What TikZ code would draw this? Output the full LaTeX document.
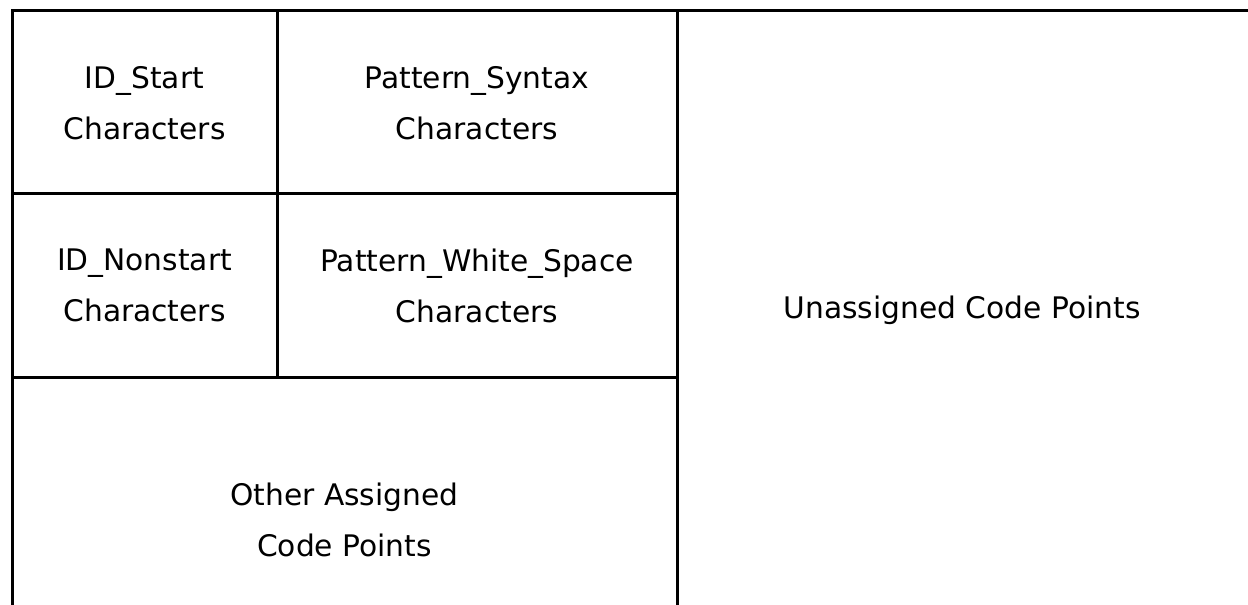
\documentclass[tikz,border=0pt]{standalone}
\usepackage{fontspec}
\setmainfont{DejaVu Sans}
\tikzset{
    celltext/.style={align=center,font=\fontsize{29.7}{51}\selectfont},
    cellline/.style={line width=3pt}
}
\begin{document}
\begin{tikzpicture}[x=1pt,y=-1pt]
        \useasboundingbox (0,0) rectangle (1248,605);
        \node[celltext] (idstart) at (144.5,103) {ID\_Start\\Characters};
        \node[celltext] (patsyntax) at (477,103) {Pattern\_Syntax\\Characters};
        \node[celltext] (idnonstart) at (144.5,285.5) {ID\_Nonstart\\Characters};
        \node[celltext] (patspace) at (477,285.5) {Pattern\_White\_Space\\Characters};
        \node[celltext] (otherassigned) at (344.5,519.5) {Other Assigned\\Code Points};
        \node[celltext] (unassigned) at (962,310) {Unassigned Code Points};
        \draw[cellline] (12,605) -- (12,10.5) -- (1248,10.5);
        \draw[cellline] (277.5,10.5) -- (277.5,377);
        \draw[cellline] (677,10.5) -- (677,605);
        \draw[cellline] (12,193.5) -- (677,193.5);
        \draw[cellline] (12,377) -- (677,377);
    \end{tikzpicture}
\end{document}
